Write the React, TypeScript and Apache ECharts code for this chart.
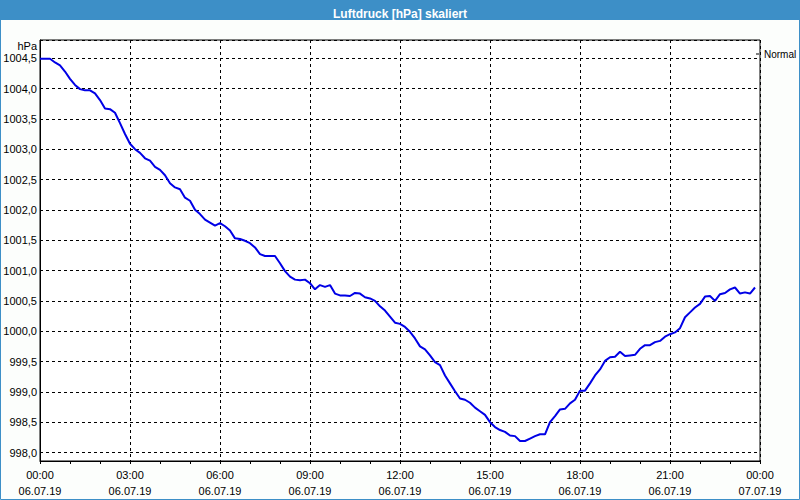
import React, { useEffect, useRef } from "react";
import * as echarts from "echarts";

// Luftdruck (hPa), one reading every 10 minutes from 06.07.19 00:00
const startUtc = Date.UTC(2019, 6, 6, 0, 0);
const stepMinutes = 10;
const pressure: number[] = [
  1004.49, 1004.49, 1004.49, 1004.43, 1004.38, 1004.28, 1004.16, 1004.06, 1003.99, 1003.97,
  1003.97, 1003.92, 1003.81, 1003.67, 1003.66, 1003.6, 1003.43, 1003.25, 1003.09, 1003.0,
  1002.94, 1002.85, 1002.81, 1002.71, 1002.66, 1002.57, 1002.44, 1002.37, 1002.34, 1002.2,
  1002.15, 1002.0, 1001.93, 1001.84, 1001.79, 1001.74, 1001.78, 1001.73, 1001.66, 1001.53,
  1001.52, 1001.49, 1001.45, 1001.38, 1001.27, 1001.24, 1001.24, 1001.24, 1001.12, 1000.99,
  1000.9, 1000.85, 1000.84, 1000.85, 1000.79, 1000.69, 1000.76, 1000.73, 1000.76, 1000.62,
  1000.59, 1000.59, 1000.58, 1000.63, 1000.62, 1000.56, 1000.54, 1000.5, 1000.41, 1000.34,
  1000.24, 1000.14, 1000.12, 1000.07, 999.99, 999.88, 999.75, 999.7, 999.6, 999.49,
  999.44, 999.27, 999.14, 999.01, 998.89, 998.87, 998.82, 998.74, 998.68, 998.62,
  998.5, 998.42, 998.37, 998.34, 998.28, 998.27, 998.19, 998.19, 998.23, 998.27,
  998.3, 998.3, 998.5, 998.6, 998.71, 998.72, 998.81, 998.87, 999.02, 999.02,
  999.14, 999.27, 999.37, 999.51, 999.57, 999.58, 999.66, 999.59, 999.6, 999.61,
  999.71, 999.77, 999.77, 999.82, 999.84, 999.91, 999.95, 999.98, 1000.05, 1000.23,
  1000.31, 1000.39, 1000.45, 1000.57, 1000.58, 1000.5, 1000.61, 1000.63, 1000.69, 1000.72,
  1000.62, 1000.64, 1000.62, 1000.72,
];
const seriesName = "Normal";
const titleText = "Luftdruck [hPa] skaliert";
const yUnit = "hPa";
const yMin = 997.86;
const yMax = 1004.8;
const xHoursMin = 0;
const xHoursMax = 24;
const xTickHours = 3;

const pad = (n: number) => String(n).padStart(2, "0");
const fmtTime = (h: number) => {
  const d = new Date(startUtc + h * 3600000);
  return (
    pad(d.getUTCHours()) + ":" + pad(d.getUTCMinutes()) + "\n" +
    pad(d.getUTCDate()) + "." + pad(d.getUTCMonth() + 1) + "." + pad(d.getUTCFullYear() % 100)
  );
};

export default function App() {
  const ref = useRef<HTMLDivElement>(null);
  useEffect(() => {
    if (!ref.current) return;
    const chart = echarts.init(ref.current, null, { renderer: "svg" });
    const data = pressure.map((v, i) => [(i * stepMinutes) / 60, v]);
    const font = "'Liberation Sans', Arial, sans-serif";
    chart.setOption({
      animation: false,
      backgroundColor: "#fcfefc",
      textStyle: { fontFamily: font },
      title: {
        text: titleText,
        left: "center",
        top: 3,
        textStyle: { color: "#ffffff", fontSize: 12, fontWeight: "bold", fontFamily: font },
      },
      graphic: [
        { type: "rect", left: 0, top: 0, shape: { width: 800, height: 20 }, style: { fill: "#3d8fc7" }, z: -1 },
        {
          type: "rect",
          shape: { x: 0.5, y: 0.5, width: 799, height: 499 },
          style: { fill: "none", stroke: "#3d8fc7", lineWidth: 1 },
          z: -1,
        },
      ],
      legend: {
        left: 756,
        top: 49,
        padding: 0,
        icon: "rect",
        itemWidth: 3,
        itemHeight: 1,
        itemStyle: { color: "#000" },
        textStyle: { fontSize: 10, color: "#000", fontFamily: font },
        data: [seriesName],
      },
      grid: {
        left: 40,
        top: 40,
        width: 720,
        height: 421,
        show: true,
        backgroundColor: "#ffffff",
        borderColor: "#000",
        borderWidth: 1,
      },
      xAxis: {
        type: "value",
        min: xHoursMin,
        max: xHoursMax,
        interval: xTickHours,
        axisLine: { lineStyle: { color: "#000", width: 1 } },
        axisTick: { show: true, length: 3, lineStyle: { color: "#000" } },
        minorTick: { show: true, splitNumber: 3, length: 3, lineStyle: { color: "#000" } },
        axisLabel: {
          formatter: (v: number) => fmtTime(v),
          color: "#000",
          fontSize: 11,
          lineHeight: 16,
          margin: 6,
          fontFamily: font,
        },
        splitLine: { show: true, lineStyle: { color: "#000", type: [3, 3], width: 1 } },
      },
      yAxis: {
        type: "value",
        min: yMin,
        max: yMax,
        splitNumber: 14,
        name: yUnit,
        nameLocation: "end",
        nameGap: -6,
        nameTextStyle: { color: "#000", fontSize: 11, align: "right", verticalAlign: "middle", padding: [0, 3, 0, 0], fontFamily: font },
        axisLine: { show: true, lineStyle: { color: "#000", width: 1 } },
        axisTick: { show: false },
        axisLabel: {
          formatter: (v: number) => v.toFixed(1).replace(".", ","),
          color: "#000",
          fontSize: 11,
          margin: 3,
          showMinLabel: false,
          showMaxLabel: false,
          fontFamily: font,
        },
        splitLine: { show: true, lineStyle: { color: "#000", type: [3, 3], width: 1 } },
      },
      series: [
        {
          name: seriesName,
          type: "line",
          data,
          showSymbol: false,
          symbol: "none",
          lineStyle: { color: "#0000e6", width: 2 },
          itemStyle: { color: "#0000e6" },
        },
      ],
    });
    return () => chart.dispose();
  }, []);
  return <div ref={ref} style={{ position: "absolute", left: 0, top: 0, width: 800, height: 500 }} />;
}
